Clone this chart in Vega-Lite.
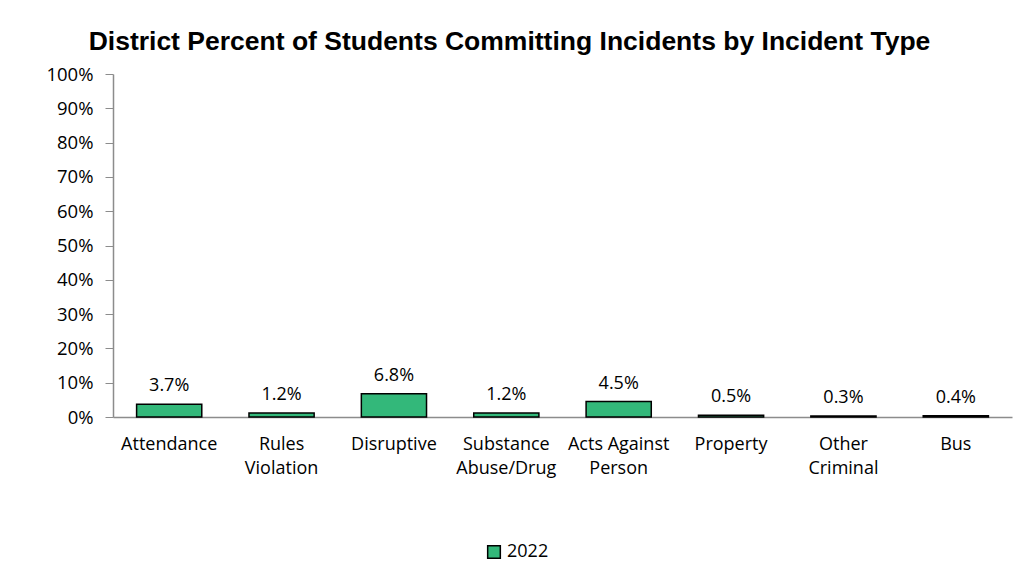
{
  "$schema": "https://vega.github.io/schema/vega-lite/v6.json",
  "width": 899,
  "height": 343,
  "autosize": {"type": "none"},
  "padding": {"left": 113, "top": 74, "right": 23, "bottom": 149},
  "background": "white",
  "title": {
    "text": "District Percent of Students Committing Incidents by Incident Type",
    "font": "Liberation Sans",
    "fontSize": 26.5,
    "fontWeight": "bold",
    "color": "#000000",
    "anchor": "middle",
    "dx": -53,
    "offset": 10
  },
  "data": {
    "values": [
      {"type": "Attendance", "year": "2022", "pct": 0.037},
      {"type": "Rules|Violation", "year": "2022", "pct": 0.012},
      {"type": "Disruptive", "year": "2022", "pct": 0.068},
      {"type": "Substance|Abuse/Drug", "year": "2022", "pct": 0.012},
      {"type": "Acts Against|Person", "year": "2022", "pct": 0.045},
      {"type": "Property", "year": "2022", "pct": 0.005},
      {"type": "Other|Criminal", "year": "2022", "pct": 0.003},
      {"type": "Bus", "year": "2022", "pct": 0.004}
    ]
  },
  "encoding": {
    "x": {
      "field": "type",
      "type": "nominal",
      "sort": null,
      "title": null,
      "scale": {"paddingInner": 0.42, "paddingOuter": 0.21},
      "axis": {
        "labelExpr": "split(datum.label, '|')",
        "labelAngle": 0,
        "labelFont": "Open Sans",
        "labelFontSize": 18,
        "labelColor": "#000000",
        "labelLineHeight": 24,
        "labelPadding": 18,
        "ticks": false,
        "domainColor": "#8c8c8c",
        "domainWidth": 1.5,
        "labelBaseline": "top"
      }
    },
    "y": {
      "field": "pct",
      "type": "quantitative",
      "title": null,
      "scale": {"domain": [0, 1]},
      "axis": {
        "format": ".0%",
        "values": [0, 0.1, 0.2, 0.3, 0.4, 0.5, 0.6, 0.7, 0.8, 0.9, 1],
        "grid": false,
        "labelFont": "Open Sans",
        "labelFontSize": 18.5,
        "labelColor": "#000000",
        "labelPadding": 12,
        "tickSize": 8,
        "tickColor": "#8c8c8c",
        "domainColor": "#8c8c8c",
        "domainWidth": 1.5
      }
    }
  },
  "layer": [
    {
      "mark": {"type": "bar", "stroke": "#000000", "strokeWidth": 1.5},
      "encoding": {
        "color": {
          "field": "year",
          "type": "nominal",
          "scale": {"range": ["#33B87A"]},
          "legend": {
            "title": null,
            "orient": "none",
            "legendX": 372,
            "legendY": 469,
            "symbolType": "square",
            "symbolSize": 160,
            "symbolStrokeColor": "#000000",
            "symbolStrokeWidth": 1.5,
            "labelFont": "Open Sans",
            "labelFontSize": 18,
            "labelColor": "#000000",
            "labelOffset": 4
          }
        }
      }
    },
    {
      "mark": {
        "type": "text",
        "baseline": "bottom",
        "dy": -9,
        "font": "Open Sans",
        "fontSize": 18,
        "color": "#000000"
      },
      "encoding": {
        "text": {"field": "pct", "type": "quantitative", "format": ".1%"}
      }
    }
  ],
  "config": {"view": {"stroke": null}}
}
